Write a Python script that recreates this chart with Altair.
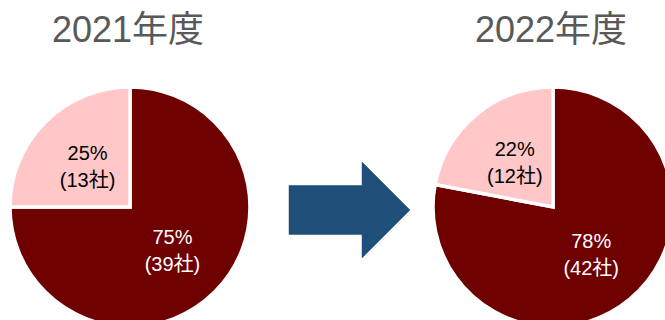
import altair as alt
import pandas as pd

# ---- data ----
years = ["2021年度", "2022年度"]
categories = ["A", "B"]            # A: dark slice, B: pink slice
pct_2021 = [75, 25]
cnt_2021 = [39, 13]
pct_2022 = [78, 22]
cnt_2022 = [42, 12]

rows = []
for year, pcts, cnts in [(years[0], pct_2021, cnt_2021), (years[1], pct_2022, cnt_2022)]:
    for i, (cat, p, c) in enumerate(zip(categories, pcts, cnts)):
        rows.append({"year": year, "cat": cat, "pct": p, "cnt": c, "ord": i,
                     "label": f"{p}%\n({c}社)"})
df = pd.DataFrame(rows)
titles = pd.DataFrame({"year": years})

# ---- layout ----
centers_x = [130, 553]
cy = 207
R = 119
FONT = "Liberation Sans, Arial, Noto Sans CJK JP"

color_scale = alt.Scale(domain=categories, range=["#6F0000", "#FFC7C8"])

layers = []
for yr, cx in zip(years, centers_x):
    base = alt.Chart(df).transform_filter(alt.datum.year == yr)
    arc = base.mark_arc(radius=R + 1, stroke="white", strokeWidth=3.5).encode(
        theta=alt.Theta("pct:Q", stack=True),
        order=alt.Order("ord:Q"),
        color=alt.Color("cat:N", scale=color_scale, legend=None),
        x=alt.value(cx), y=alt.value(cy),
    )
    txt = base.mark_text(radius=60, font=FONT, fontSize=20, lineBreak="\n",
                         lineHeight=27, align="center", baseline="middle",
                         dy=-11).encode(
        theta=alt.Theta("pct:Q", stack=True),
        order=alt.Order("ord:Q"),
        text="label:N",
        color=alt.condition(alt.datum.cat == "A", alt.value("white"), alt.value("black")),
        x=alt.value(cx), y=alt.value(cy),
    )
    ttl = alt.Chart(titles).transform_filter(alt.datum.year == yr).mark_text(
        font=FONT, fontSize=36, color="#595959", align="center", baseline="alphabetic"
    ).encode(text="year:N", x=alt.value(cx - 2), y=alt.value(42))
    layers += [arc, txt, ttl]

arrow_path = ("M -1 -0.405 L 0.207 -0.405 L 0.207 -0.793 L 1 0 "
              "L 0.207 0.793 L 0.207 0.405 L -1 0.405 Z")
arrow = alt.Chart(titles.head(1)).mark_point(
    shape=arrow_path, size=121 * 121, filled=True, fill="#1F4E79",
    stroke="#1F4E79", strokeWidth=0.5, opacity=1
).encode(x=alt.value(349.5), y=alt.value(210))
layers.append(arrow)

chart = alt.layer(*layers).properties(
    width=665, height=320,
    autosize=alt.AutoSizeParams(type="none"),
    padding=0,
).configure_view(stroke=None)

chart.save("out.html", embed_options={"renderer": "svg", "actions": False})
